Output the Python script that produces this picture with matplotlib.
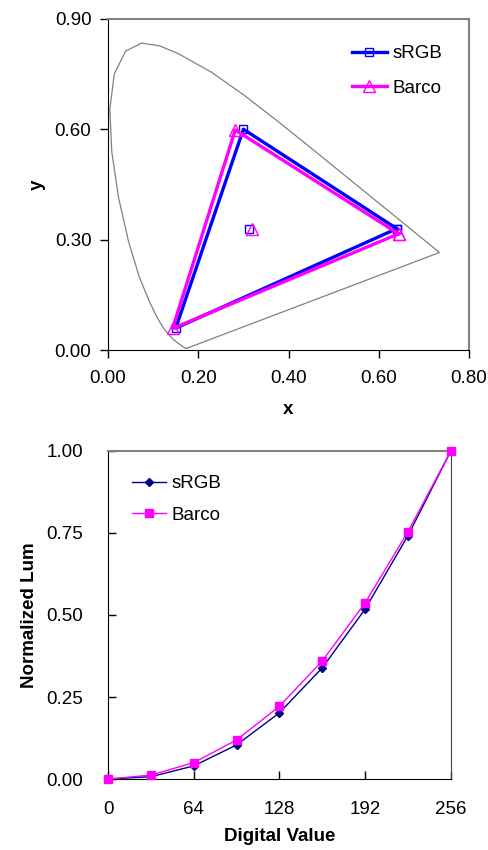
import numpy as np
import matplotlib.pyplot as plt
from matplotlib.ticker import FormatStrFormatter

plt.rcParams['font.family'] = ['Liberation Sans', 'DejaVu Sans']
fs = 13.5

# spectral locus (x, y)
locusX = [0.1741, 0.1714, 0.1644, 0.1566, 0.1440, 0.1241, 0.1096, 0.0913, 0.0687,
          0.0454, 0.0235, 0.0082, 0.0039, 0.0139, 0.0389, 0.0743, 0.1142, 0.1547,
          0.2296, 0.3016, 0.3731, 0.4441, 0.5125, 0.5752, 0.6270, 0.6915, 0.7190,
          0.7347, 0.1741]
locusY = [0.0050, 0.0051, 0.0109, 0.0177, 0.0297, 0.0578, 0.0868, 0.1327, 0.2007,
          0.2950, 0.4127, 0.5384, 0.6548, 0.7502, 0.8120, 0.8338, 0.8262, 0.8059,
          0.7543, 0.6923, 0.6245, 0.5547, 0.4866, 0.4242, 0.3725, 0.3083, 0.2809,
          0.2653, 0.0050]

# primaries R, G, B, R (closed triangle) and white points
srgbX = [0.640, 0.300, 0.150, 0.640]
srgbY = [0.330, 0.600, 0.060, 0.330]
barcoX = [0.644, 0.282, 0.143, 0.644]
barcoY = [0.316, 0.598, 0.059, 0.316]
srgbWhite = (0.313, 0.330)
barcoWhite = (0.319, 0.328)

# tone response
digital = [0, 32, 64, 96, 128, 160, 192, 224, 256]
lumSRGB = [0.0, 0.007, 0.040, 0.104, 0.202, 0.339, 0.518, 0.742, 1.0]
lumBarco = [0.0, 0.012, 0.050, 0.119, 0.222, 0.360, 0.537, 0.754, 1.0]

fig = plt.figure(figsize=[4.89, 8.5], dpi=100, facecolor='w')

# top: chromaticity diagram
ax1 = fig.add_axes([0.221, 0.588, 0.738, 0.390])
ax1.plot(locusX, locusY, '-', color='gray', linewidth=0.9)
ax1.plot(srgbX, srgbY, '-s', color='#0000ff', linewidth=2.4,
         markersize=6, markerfacecolor='none', markeredgewidth=1, label='sRGB')
ax1.plot(barcoX, barcoY, '-^', color='#ff00ff', linewidth=2.4,
         markersize=8, markerfacecolor='none', markeredgewidth=1, label='Barco')
ax1.plot([srgbWhite[0]], [srgbWhite[1]], 's', color='#0000ff',
         markersize=6, markerfacecolor='none', markeredgewidth=1)
ax1.plot([barcoWhite[0]], [barcoWhite[1]], '^', color='#ff00ff',
         markersize=8, markerfacecolor='none', markeredgewidth=1)
ax1.set_xlim(0, 0.8)
ax1.set_ylim(0, 0.9)
ax1.set_xticks([0, 0.2, 0.4, 0.6, 0.8])
ax1.set_yticks([0, 0.3, 0.6, 0.9])
ax1.xaxis.set_major_formatter(FormatStrFormatter('%.2f'))
ax1.yaxis.set_major_formatter(FormatStrFormatter('%.2f'))
ax1.tick_params(direction='out', length=6, width=1, labelsize=fs, pad=8)
ax1.tick_params(axis='y', pad=6)
ax1.spines['top'].set_color('gray')
ax1.spines['right'].set_color('gray')
ax1.spines['top'].set_linewidth(1.5)
ax1.spines['right'].set_linewidth(1.5)
ax1.set_xlabel('x', fontsize=fs, fontweight='bold', labelpad=10)
ax1.set_ylabel('y', fontsize=fs, fontweight='bold', labelpad=6)
ax1.legend(loc='upper right', frameon=False, fontsize=fs, handlelength=1.9,
           handletextpad=0.3, borderaxespad=1.0, labelspacing=0.95)

# bottom: normalized luminance
ax2 = fig.add_axes([0.221, 0.0835, 0.701, 0.386])
ax2.plot(digital, lumSRGB, '-D', color='#000080', linewidth=1,
         markersize=4.5, label='sRGB')
ax2.plot(digital, lumBarco, '-s', color='#ff00ff', linewidth=1,
         markersize=6, label='Barco', clip_on=False, zorder=3)
ax2.set_xlim(0, 256)
ax2.set_ylim(0, 1)
ax2.set_xticks([0, 64, 128, 192, 256])
ax2.set_yticks([0, 0.25, 0.5, 0.75, 1.0])
ax2.yaxis.set_major_formatter(FormatStrFormatter('%.2f'))
ax2.tick_params(direction='in', length=6, width=1, labelsize=fs, pad=16)
ax2.tick_params(axis='y', pad=18)
ax2.spines['top'].set_color('gray')
ax2.spines['right'].set_color('#444444')
ax2.spines['top'].set_linewidth(1.5)
ax2.set_xlabel('Digital Value', fontsize=fs, fontweight='bold', labelpad=7)
ax2.set_ylabel('Normalized Lum', fontsize=fs, fontweight='bold', labelpad=6)
ax2.legend(loc='upper left', frameon=False, fontsize=fs, handlelength=1.8,
           handletextpad=0.3, borderaxespad=0.9, labelspacing=0.75)

plt.savefig('out.png', dpi=100, facecolor='w')
